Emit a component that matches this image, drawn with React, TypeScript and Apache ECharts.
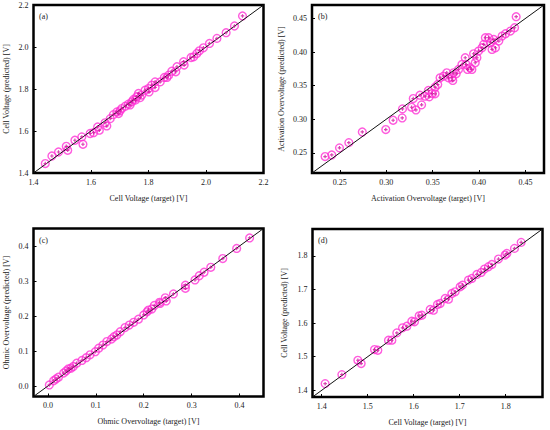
import React, { useEffect, useRef } from "react";
import * as echarts from "echarts";

// Panel (a): Cell Voltage
const A_TARGET = [1.441, 1.464, 1.487, 1.514, 1.519, 1.544, 1.572, 1.568, 1.597, 1.609, 1.623, 1.629, 1.649, 1.655, 1.667, 1.678, 1.69, 1.696, 1.701, 1.707, 1.719, 1.73, 1.736, 1.742, 1.748, 1.754, 1.759, 1.765, 1.771, 1.777, 1.788, 1.8, 1.802, 1.811, 1.823, 1.823, 1.841, 1.855, 1.864, 1.87, 1.881, 1.895, 1.899, 1.922, 1.924, 1.948, 1.957, 1.968, 1.977, 1.991, 2.012, 2.038, 2.07, 2.099, 2.127];
const A_PRED = [1.445, 1.481, 1.5, 1.527, 1.508, 1.556, 1.537, 1.572, 1.588, 1.592, 1.619, 1.604, 1.639, 1.624, 1.659, 1.678, 1.691, 1.683, 1.696, 1.707, 1.718, 1.728, 1.724, 1.739, 1.75, 1.747, 1.763, 1.779, 1.759, 1.771, 1.794, 1.802, 1.786, 1.818, 1.834, 1.807, 1.834, 1.855, 1.855, 1.866, 1.885, 1.882, 1.906, 1.93, 1.914, 1.95, 1.953, 1.969, 1.982, 1.996, 2.017, 2.041, 2.068, 2.1, 2.148];

// Panel (b): Activation Overvoltage
const B_TARGET = [0.2341, 0.2413, 0.2496, 0.2597, 0.2742, 0.2995, 0.3074, 0.3172, 0.3175, 0.3273, 0.3291, 0.332, 0.3363, 0.3381, 0.3417, 0.3454, 0.3464, 0.3497, 0.3526, 0.3526, 0.3555, 0.358, 0.3616, 0.3652, 0.367, 0.3707, 0.3717, 0.3725, 0.3754, 0.3779, 0.3815, 0.3851, 0.3862, 0.3876, 0.3905, 0.3923, 0.3941, 0.3959, 0.3977, 0.3995, 0.4032, 0.405, 0.4068, 0.4104, 0.4122, 0.414, 0.4159, 0.4177, 0.4213, 0.4249, 0.4285, 0.4339, 0.4383, 0.44];
const B_PRED = [0.2444, 0.2469, 0.2574, 0.2652, 0.2811, 0.2846, 0.2985, 0.302, 0.3154, 0.3179, 0.3308, 0.3139, 0.3358, 0.3214, 0.3343, 0.3428, 0.3333, 0.3383, 0.3378, 0.3477, 0.3517, 0.3617, 0.3641, 0.3691, 0.3617, 0.3617, 0.3577, 0.3691, 0.3676, 0.3741, 0.3815, 0.3915, 0.3815, 0.3741, 0.3766, 0.3741, 0.3974, 0.3841, 0.3915, 0.4014, 0.4064, 0.4114, 0.4213, 0.4213, 0.4138, 0.4039, 0.4188, 0.4064, 0.4163, 0.4238, 0.4273, 0.4312, 0.4362, 0.4526];

// Panel (c): Ohmic Overvoltage
const C_TARGET = [0.003, 0.012, 0.017, 0.022, 0.033, 0.038, 0.043, 0.048, 0.053, 0.06, 0.071, 0.08, 0.088, 0.099, 0.106, 0.115, 0.123, 0.133, 0.138, 0.144, 0.151, 0.161, 0.17, 0.179, 0.189, 0.2, 0.207, 0.21, 0.217, 0.222, 0.233, 0.234, 0.245, 0.247, 0.262, 0.287, 0.287, 0.307, 0.316, 0.326, 0.34, 0.365, 0.394, 0.421];
const C_PRED = [0.003, 0.015, 0.02, 0.025, 0.037, 0.043, 0.049, 0.051, 0.056, 0.065, 0.073, 0.081, 0.089, 0.098, 0.108, 0.117, 0.127, 0.134, 0.141, 0.146, 0.155, 0.167, 0.174, 0.182, 0.191, 0.203, 0.212, 0.217, 0.22, 0.23, 0.239, 0.236, 0.252, 0.243, 0.263, 0.288, 0.279, 0.303, 0.315, 0.325, 0.339, 0.364, 0.393, 0.423];

// Panel (d): Cell Voltage (test)
const D_TARGET = [1.4075, 1.4438, 1.4786, 1.4858, 1.5148, 1.522, 1.5452, 1.5525, 1.5633, 1.5757, 1.5851, 1.5959, 1.6017, 1.6119, 1.6177, 1.6358, 1.643, 1.6517, 1.6575, 1.6684, 1.6757, 1.6829, 1.6901, 1.701, 1.7061, 1.7191, 1.7264, 1.7372, 1.7467, 1.7539, 1.7626, 1.7699, 1.7843, 1.7988, 1.8024, 1.8191, 1.8336];
const D_PRED = [1.4198, 1.4466, 1.4893, 1.4794, 1.5212, 1.5192, 1.549, 1.549, 1.5708, 1.5858, 1.5907, 1.6057, 1.6037, 1.6215, 1.6235, 1.6404, 1.6384, 1.6553, 1.6583, 1.6732, 1.6712, 1.6881, 1.6931, 1.708, 1.713, 1.7279, 1.7329, 1.7448, 1.7508, 1.7607, 1.7677, 1.7746, 1.7905, 1.8025, 1.8074, 1.8223, 1.8402];

// Axis extents, tick steps and tick labels
const A_RANGE = [1.4, 2.2];
const A_STEP = 0.2;
const A_TICKS = [1.4, 1.6, 1.8, 2.0, 2.2];
const B_RANGE = [0.22, 0.47];
const B_STEP = 0.05;
const B_TICKS = [0.25, 0.3, 0.35, 0.4, 0.45];
const C_RANGE = [-0.03, 0.45];
const C_STEP = 0.1;
const C_TICKS = [0.0, 0.1, 0.2, 0.3, 0.4];
const D_RANGE = [1.38, 1.88];
const D_STEP = 0.1;
const D_TICKS = [1.4, 1.5, 1.6, 1.7, 1.8];

const PANEL_LETTERS = ["(a)", "(b)", "(c)", "(d)"];
const X_NAMES = [
  "Cell Voltage (target) [V]",
  "Activation Overvoltage (target) [V]",
  "Ohmic Overvoltage (target) [V]",
  "Cell Voltage (target) [V]",
];
const Y_NAMES = [
  "Cell Voltage (predicted) [V]",
  "Activation Overvoltage (predicted) [V]",
  "Ohmic Overvoltage (predicted) [V]",
  "Cell Voltage (predicted) [V]",
];

const FONT = "Liberation Serif";
const TEXT_COLOR = "#222";
const MAGENTA = "#ff33d6";
const PLUS_COLOR = "#d0129c";
const PLUS_PATH = "path://M2,0H4V2H6V4H4V6H2V4H0V2H2Z";

export default function App() {
  const ref = useRef<HTMLDivElement>(null);

  useEffect(() => {
    if (!ref.current) return;
    const chart = echarts.init(ref.current, null, { renderer: "svg" });

    const panels = [
      { t: A_TARGET, p: A_PRED, range: A_RANGE, step: A_STEP, ticks: A_TICKS, dec: 1 },
      { t: B_TARGET, p: B_PRED, range: B_RANGE, step: B_STEP, ticks: B_TICKS, dec: 2 },
      { t: C_TARGET, p: C_PRED, range: C_RANGE, step: C_STEP, ticks: C_TICKS, dec: 1 },
      { t: D_TARGET, p: D_PRED, range: D_RANGE, step: D_STEP, ticks: D_TICKS, dec: 1 },
    ];

    const grids = [
      { left: 33.5, top: 5, width: 230, height: 168 },
      { left: 312, top: 5, width: 232, height: 168 },
      { left: 33.5, top: 228.5, width: 230, height: 168 },
      { left: 312.5, top: 229, width: 230, height: 168 },
    ];
    const xGaps = [21, 21, 21, 21];
    const yGaps = [23, 27, 23, 24];

    const makeAxis = (i: number, isX: boolean) => {
      const pn = panels[i];
      return {
        type: "value",
        gridIndex: i,
        min: pn.range[0],
        max: pn.range[1],
        minInterval: pn.step,
        maxInterval: pn.step,
        name: isX ? X_NAMES[i] : Y_NAMES[i],
        nameLocation: "middle",
        nameGap: isX ? xGaps[i] : yGaps[i],
        nameTextStyle: { fontFamily: FONT, fontSize: 8, color: TEXT_COLOR },
        axisLine: { show: false, onZero: false },
        splitLine: { show: false },
        axisTick: {
          show: true,
          inside: true,
          length: 3,
          lineStyle: { color: "#000", width: 1 },
          customValues: pn.ticks,
        },
        axisLabel: {
          fontFamily: FONT,
          fontSize: 8,
          color: TEXT_COLOR,
          margin: 5,
          customValues: pn.ticks,
          formatter: (v: number) => v.toFixed(pn.dec),
        },
      };
    };

    const series: any[] = [];
    panels.forEach((pn, i) => {
      const pts = pn.t.map((x, k) => [x, pn.p[k]]);
      series.push({
        type: "scatter",
        xAxisIndex: i,
        yAxisIndex: i,
        data: pts,
        symbol: "circle",
        symbolSize: 7.8,
        itemStyle: { color: "rgba(0,0,0,0)", borderColor: MAGENTA, borderWidth: 1.4 },
        z: 2,
      });
      series.push({
        type: "line",
        xAxisIndex: i,
        yAxisIndex: i,
        data: [
          [pn.range[0], pn.range[0]],
          [pn.range[1], pn.range[1]],
        ],
        symbol: "none",
        lineStyle: { color: "#111", width: 1 },
        z: 3,
      });
      series.push({
        type: "scatter",
        xAxisIndex: i,
        yAxisIndex: i,
        data: pts,
        symbol: PLUS_PATH,
        symbolSize: 3.5,
        itemStyle: { color: PLUS_COLOR },
        z: 4,
      });
    });

    const letterPos = [
      [39, 12],
      [318, 12],
      [39, 236],
      [318, 236],
    ];

    chart.setOption({
      animation: false,
      backgroundColor: "#fff",
      grid: grids.map((g) => ({
        ...g,
        show: true,
        borderColor: "#000",
        borderWidth: 2.5,
        backgroundColor: "rgba(0,0,0,0)",
      })),
      xAxis: panels.map((_, i) => makeAxis(i, true)),
      yAxis: panels.map((_, i) => makeAxis(i, false)),
      series,
      graphic: PANEL_LETTERS.map((txt, i) => ({
        type: "text",
        left: letterPos[i][0],
        top: letterPos[i][1],
        style: { text: txt, fontFamily: FONT, fontSize: 8, fill: TEXT_COLOR },
        z: 10,
      })),
    });

    return () => chart.dispose();
  }, []);

  return (
    <div
      ref={ref}
      style={{ position: "fixed", left: 0, top: 0, width: 550, height: 430 }}
    />
  );
}
